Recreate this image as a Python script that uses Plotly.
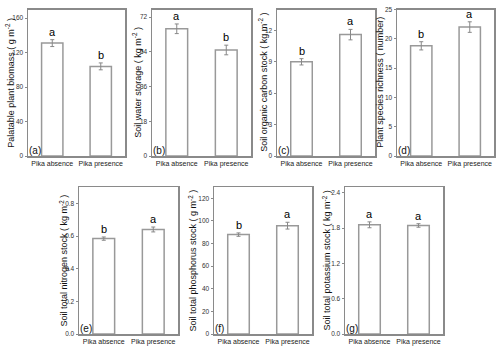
import plotly.graph_objects as go

W, H = 500, 348
categories = ["Pika absence", "Pika presence"]

palatable_biomass = [131, 104]
palatable_biomass_err = [4, 4]
water_storage = [66, 55]
water_storage_err = [2.5, 2.5]
carbon_stock = [9.0, 11.6]
carbon_stock_err = [0.3, 0.5]
species_richness = [18.8, 22.0]
species_richness_err = [0.7, 0.9]
nitrogen_stock = [0.584, 0.64]
nitrogen_stock_err = [0.01, 0.015]
phosphorus_stock = [87.9, 95.8]
phosphorus_stock_err = [1.5, 3]
potassium_stock = [1.857, 1.846]
potassium_stock_err = [0.05, 0.03]

letters = {
    "a": ["a", "b"], "b": ["a", "b"], "c": ["b", "a"], "d": ["b", "a"],
    "e": ["b", "a"], "f": ["b", "a"], "g": ["a", "a"],
}

panels = [
    ("a", palatable_biomass, palatable_biomass_err, "Palatable plant biomass ( g m<sup>-2</sup> )",
     [0, 170], [0, 40, 80, 120, 160], None, (28, 125, 9.5, 156), 10),
    ("b", water_storage, water_storage_err, "Soil water storage ( kg m<sup>-2</sup> )",
     [0, 76], [0, 18, 36, 54, 72], None, (152, 251, 9.5, 156), 137),
    ("c", carbon_stock, carbon_stock_err, "Soil organic carbon stock ( kg m<sup>-2</sup> )",
     [0, 14], [0, 3, 6, 9, 12], None, (277, 375, 9.5, 156), 263),
    ("d", species_richness, species_richness_err, "Plant species richness ( number)",
     [0, 25], [0, 5, 10, 15, 20, 25], None, (397, 494, 9.5, 156), 380),
    ("e", nitrogen_stock, nitrogen_stock_err, "Soil total nitrogen stock ( kg m<sup>-2</sup> )",
     [0, 0.9], [0, 0.2, 0.4, 0.6, 0.8], ".1f", (79, 178, 187, 334), 63),
    ("f", phosphorus_stock, phosphorus_stock_err, "Soil total phosphorus stock ( g m<sup>-2</sup> )",
     [0, 130], [0, 20, 40, 60, 80, 100, 120], None, (214, 312, 187, 334), 192),
    ("g", potassium_stock, potassium_stock_err, "Soil total potassium stock ( kg m<sup>-2</sup> )",
     [0, 2.5], [0, 0.6, 1.2, 1.8, 2.4], ".1f", (345, 443, 187, 334), 326),
]

FONT = "Liberation Sans, Arial, sans-serif"
GRAY = "#8a8a8a"

fig = go.Figure()
annotations = []
for i, (key, vals, errs, title, rng, ticks, tfmt, (x0, x1, y0, y1), tx) in enumerate(panels):
    n = "" if i == 0 else str(i + 1)
    xa, ya = "x" + n, "y" + n
    fig.add_trace(go.Bar(
        x=categories, y=vals, xaxis=xa, yaxis=ya, width=0.44,
        marker=dict(color="white", line=dict(color="#999999", width=1.5)),
        error_y=dict(type="data", array=errs, color="#888888", thickness=1, width=2),
        showlegend=False, hoverinfo="skip",
    ))
    fig.layout["xaxis" + n] = dict(
        domain=[x0 / W, x1 / W], anchor=ya, range=[-0.5, 1.5],
        showline=True, mirror=True, linecolor=GRAY, linewidth=1.5,
        ticks="", tickangle=0, automargin=False,
        tickfont=dict(size=7, color="#222", family=FONT), showgrid=False,
        fixedrange=True,
    )
    fig.layout["yaxis" + n] = dict(
        domain=[1 - y1 / H, 1 - y0 / H], anchor=xa, range=rng,
        tickvals=ticks, tickformat=tfmt, automargin=False,
        showline=True, mirror=True, linecolor=GRAY, linewidth=1.5,
        ticks="outside", ticklen=2, tickcolor=GRAY,
        tickfont=dict(size=6.5, color="#333", family=FONT), showgrid=False, zeroline=False,
        fixedrange=True,
    )
    annotations.append(dict(
        x=tx / W, y=1 - (y0 + y1) / 2 / H, xref="paper", yref="paper",
        xanchor="center", yanchor="middle",
        text=title, textangle=-90, showarrow=False,
        font=dict(size=9, color="#111", family=FONT),
    ))
    annotations.append(dict(
        x=0, y=0, xref=xa + " domain", yref=ya + " domain", xanchor="left", yanchor="bottom",
        text="(" + key + ")", showarrow=False, xshift=-1, yshift=-2,
        font=dict(size=10, color="#111", family=FONT),
    ))
    for c, v, e, L in zip(categories, vals, errs, letters[key]):
        annotations.append(dict(
            x=c, y=v + e, xref=xa, yref=ya, yanchor="bottom", text=L, showarrow=False,
            yshift=0, font=dict(size=11, color="#000", family=FONT),
        ))

fig.update_layout(
    width=W, height=H, margin=dict(l=0, r=0, t=0, b=0, autoexpand=False),
    paper_bgcolor="white", plot_bgcolor="white",
    annotations=annotations, font=dict(family=FONT), hovermode=False,
)
fig.write_html(
    "out.html",
    config={"displayModeBar": False, "staticPlot": True},
    post_script="document.body.style.margin='0';document.body.style.overflow='hidden';",
)
